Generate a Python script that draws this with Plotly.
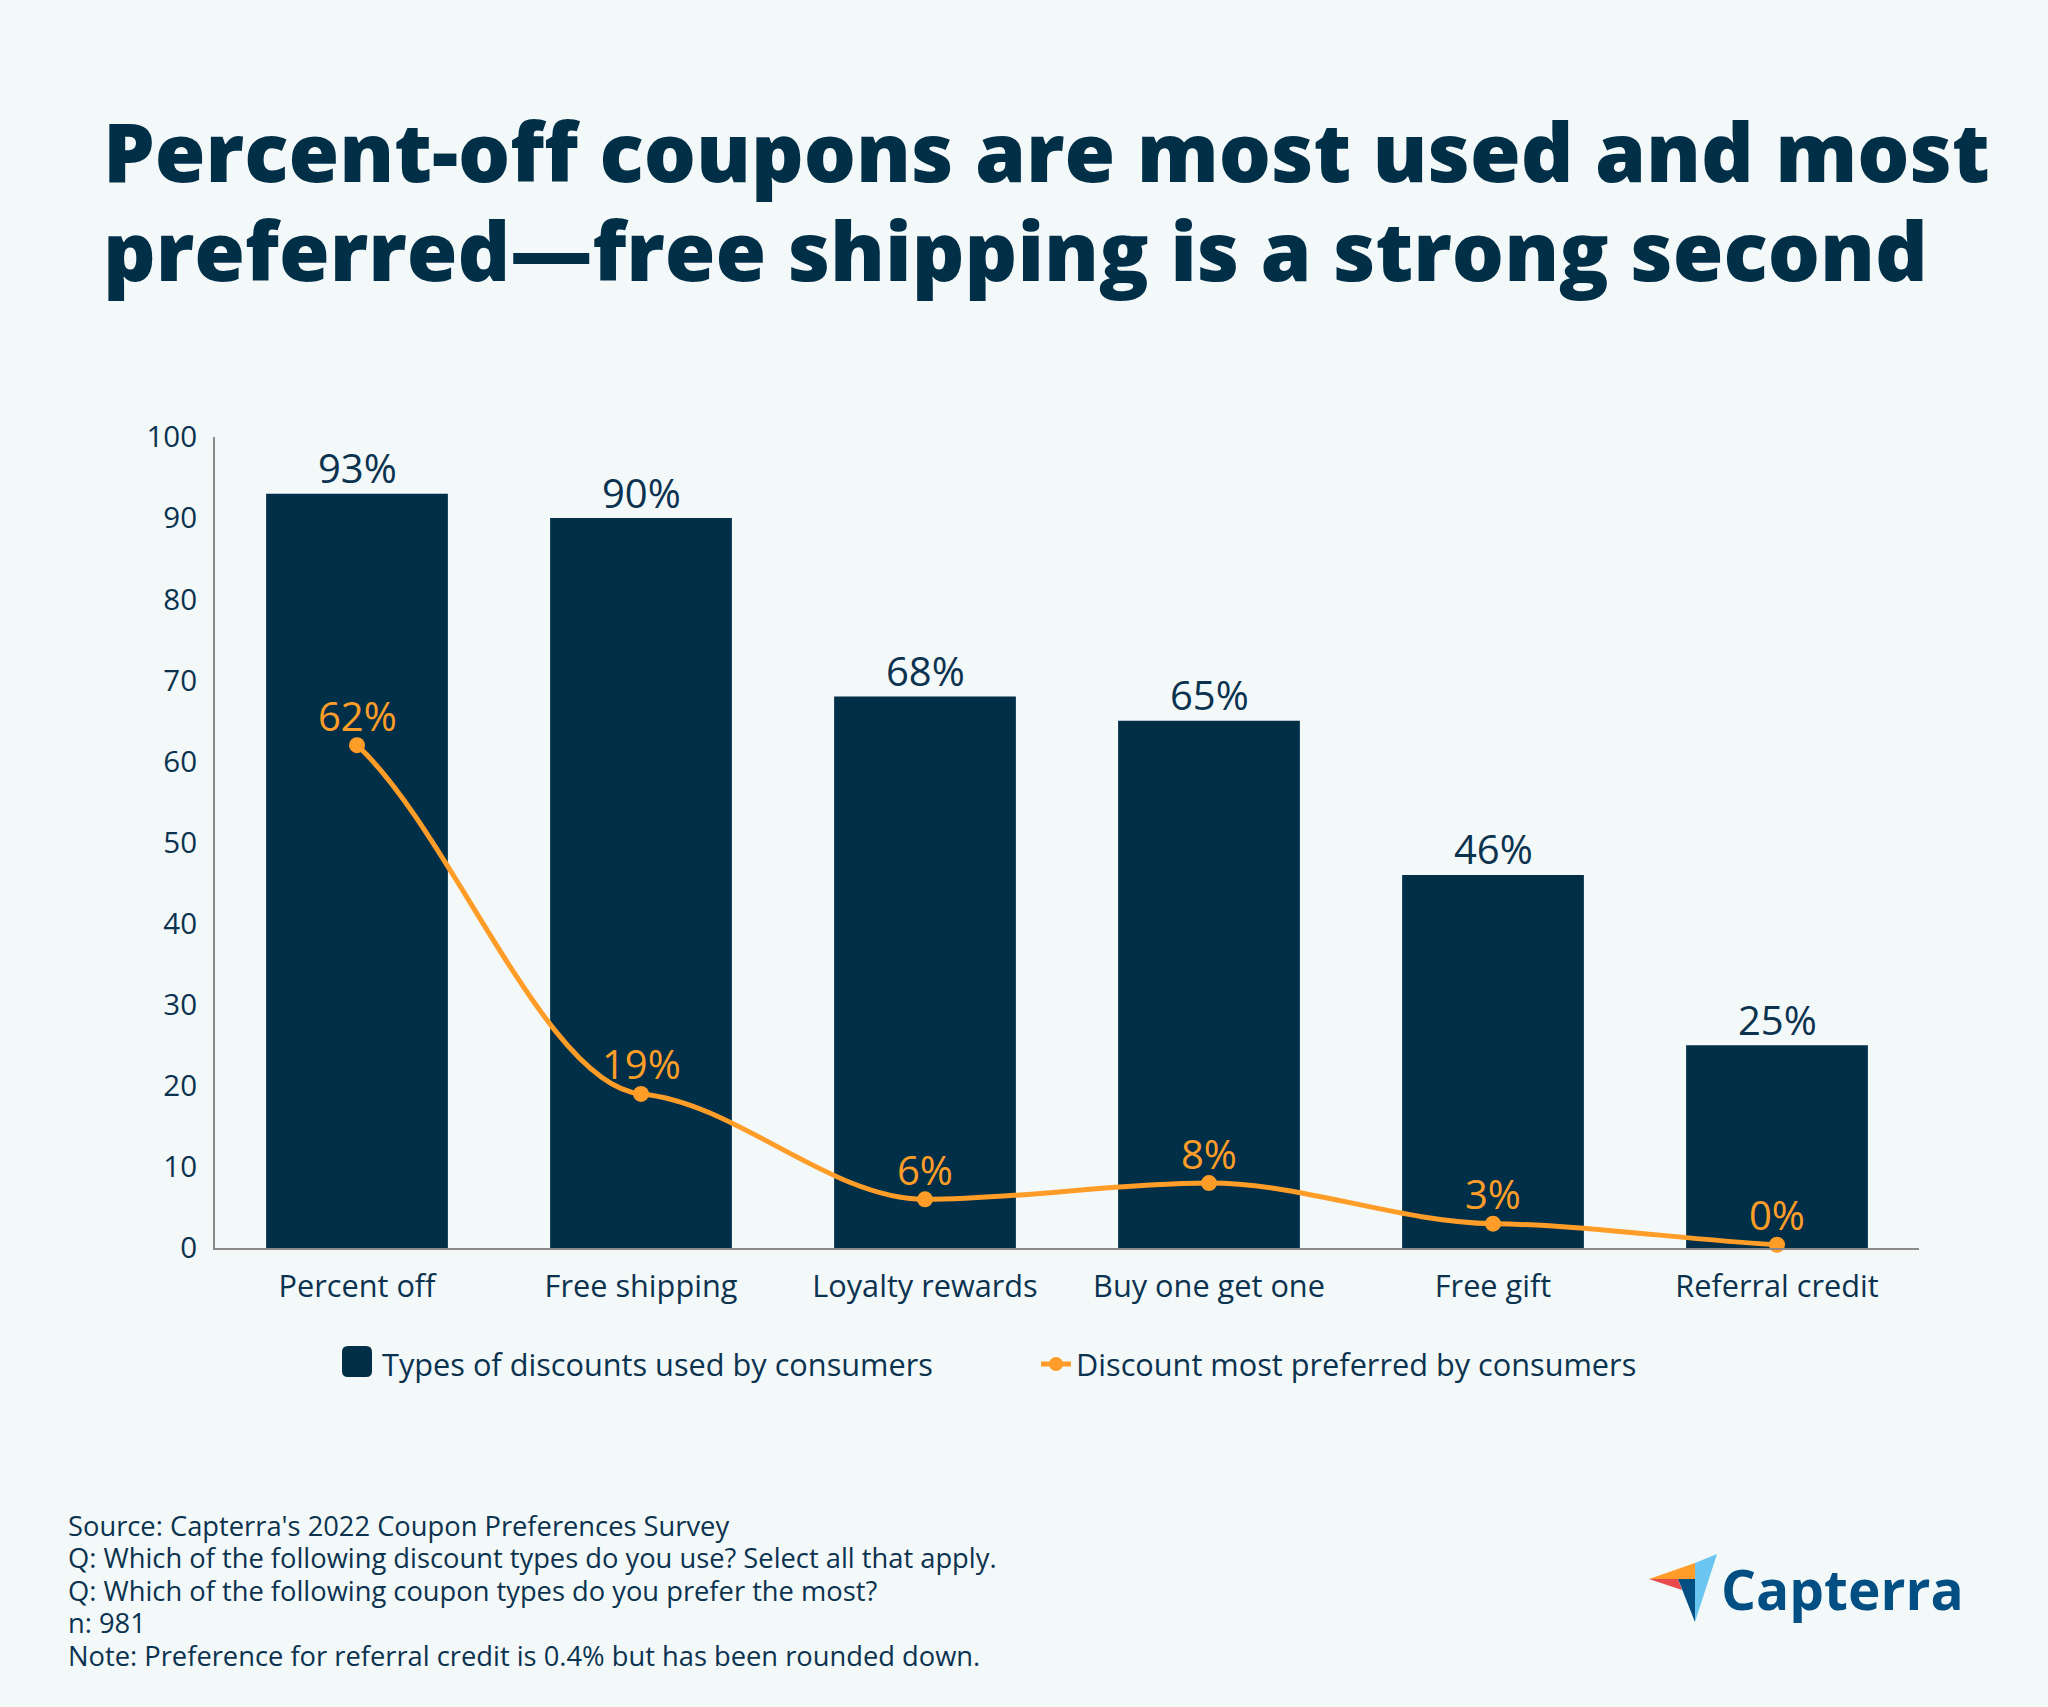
import plotly.graph_objects as go

FIG_W = 2048
FIG_H = 1707
BG = '#f3f8f8'
NAVY = '#002f47'
TEXT = '#0b3350'
ORANGE = '#ff9d28'
AXIS_GREY = '#8a8a8a'

categories = ['Percent off', 'Free shipping', 'Loyalty rewards', 'Buy one get one', 'Free gift', 'Referral credit']
used = [93, 90, 68, 65, 46, 25]
preferred = [62, 19, 6, 8, 3, 0.4]
y_ticks = [0, 10, 20, 30, 40, 50, 60, 70, 80, 90, 100]

title_lines = ['Percent-off coupons are most used and most', 'preferred—free shipping is a strong second']
footer_lines = [
    "Source: Capterra's 2022 Coupon Preferences Survey",
    'Q: Which of the following discount types do you use? Select all that apply.',
    'Q: Which of the following coupon types do you prefer the most?',
    'n: 981',
    'Note: Preference for referral credit is 0.4% but has been rounded down.',
]

# margins of the plot area, in pixels
M_L, M_R, M_T, M_B = 215, 129, 437, 459

x_pos = list(range(len(categories)))


def px(x):
    return (x - M_L) / (FIG_W - M_L - M_R)


def py(y):
    return 1 - (y - M_T) / (FIG_H - M_T - M_B)


def logo_shape(points, color):
    path = 'M ' + ' L '.join(f'{px(x):.5f},{py(y):.5f}' for x, y in points) + ' Z'
    return dict(type='path', xref='paper', yref='paper', path=path, fillcolor=color, line_width=0)


def swatch_shape(x0, y0, x1, y1, r, color):
    # rounded legend square, plotly only draws a small one
    p = [
        f'M {px(x0 + r):.5f},{py(y0):.5f}', f'L {px(x1 - r):.5f},{py(y0):.5f}',
        f'Q {px(x1):.5f},{py(y0):.5f} {px(x1):.5f},{py(y0 + r):.5f}', f'L {px(x1):.5f},{py(y1 - r):.5f}',
        f'Q {px(x1):.5f},{py(y1):.5f} {px(x1 - r):.5f},{py(y1):.5f}', f'L {px(x0 + r):.5f},{py(y1):.5f}',
        f'Q {px(x0):.5f},{py(y1):.5f} {px(x0):.5f},{py(y1 - r):.5f}', f'L {px(x0):.5f},{py(y0 + r):.5f}',
        f'Q {px(x0):.5f},{py(y0):.5f} {px(x0 + r):.5f},{py(y0):.5f}', 'Z',
    ]
    return dict(type='path', xref='paper', yref='paper', path=' '.join(p), fillcolor=color, line_width=0)


def curve_path(xs, ys):
    # Curva morbida: tangenti quasi piatte nei punti interni, come nel grafico originale
    secants = [ys[i + 1] - ys[i] for i in range(len(ys) - 1)]
    slopes = [0.75 * secants[0]]
    for a, b in zip(secants[:-1], secants[1:]):
        slopes.append(0.15 * 2 * a * b / (a + b) if a * b > 0 else 0)
    slopes.append(0.75 * secants[-1])
    path = f'M {xs[0]},{ys[0]}'
    for i in range(len(xs) - 1):
        path += (f' C {xs[i] + 1 / 3:.4f},{ys[i] + slopes[i] / 3:.4f}'
                 f' {xs[i + 1] - 1 / 3:.4f},{ys[i + 1] - slopes[i + 1] / 3:.4f}'
                 f' {xs[i + 1]},{ys[i + 1]}')
    return path


fig = go.Figure()

fig.add_trace(go.Bar(
    x=x_pos,
    y=used,
    name='Types of discounts used by consumers',
    marker=dict(color=NAVY, line_width=0),
    width=0.64,
))

# Punti della serie
fig.add_trace(go.Scatter(
    x=x_pos,
    y=preferred,
    mode='markers',
    showlegend=False,
    marker=dict(color=ORANGE, size=16),
    cliponaxis=False,
))

# Voce di legenda della linea (la curva e' disegnata come shape)
fig.add_trace(go.Scatter(
    x=[None],
    y=[None],
    mode='lines+markers',
    name='Discount most preferred by consumers',
    line=dict(color=ORANGE, width=5),
    marker=dict(color=ORANGE, size=14),
))

annotations = []
for x, v in zip(x_pos, used):
    annotations.append(dict(
        text=f'{v}%', x=x, y=v, xref='x', yref='y', yshift=26, yanchor='middle',
        showarrow=False, font=dict(size=40, color=TEXT),
    ))
for x, v in zip(x_pos, preferred):
    annotations.append(dict(
        text=f'{round(v)}%', x=x, y=v, xref='x', yref='y', yshift=30, yanchor='middle',
        showarrow=False, font=dict(size=40, color=ORANGE),
    ))
# Titolo su due righe
for i, line in enumerate(title_lines):
    annotations.append(dict(
        text=line, xref='paper', yref='paper', x=px(101), y=py(150.5 + i * 99),
        xanchor='left', yanchor='middle', showarrow=False,
        font=dict(size=82.1, color=NAVY, weight=800),
    ))
for i, line in enumerate(footer_lines):
    annotations.append(dict(
        text=line, xref='paper', yref='paper', x=px(65.5), y=py(1525 + i * 32.6),
        xanchor='left', yanchor='middle', showarrow=False,
        font=dict(size=27.3, color=TEXT),
    ))
annotations.append(dict(
    text='Capterra', xref='paper', yref='paper', x=px(1842), y=py(1588),
    xanchor='center', yanchor='middle', showarrow=False,
    font=dict(size=55, color='#034f84', weight=700),
))

shapes = [
    dict(type='path', xref='x', yref='y', path=curve_path(x_pos, preferred),
         line=dict(color=ORANGE, width=5)),
    swatch_shape(342, 1346, 372, 1377, 6, NAVY),
    logo_shape([(1649, 1579), (1695, 1563), (1695, 1579)], ORANGE),
    logo_shape([(1695, 1563), (1717, 1554), (1695, 1622)], '#6ac6f0'),
    logo_shape([(1649, 1579), (1678, 1579), (1682, 1590)], '#e84a4d'),
    logo_shape([(1678, 1579), (1695, 1579), (1695, 1622)], '#034f84'),
]

fig.update_layout(
    width=FIG_W,
    height=FIG_H,
    margin=dict(l=M_L, r=M_R, t=M_T, b=M_B, pad=0),
    paper_bgcolor=BG,
    plot_bgcolor=BG,
    font=dict(family='Open Sans', color=TEXT, size=30),
    showlegend=True,
    legend=dict(
        orientation='h', x=px(342), y=py(1364), xanchor='left', yanchor='middle',
        font=dict(size=30.7, color=TEXT), entrywidth=649, entrywidthmode='pixels',
        bgcolor='rgba(0,0,0,0)', itemclick=False,
    ),
    annotations=annotations,
    shapes=shapes,
)
fig.update_xaxes(
    range=[-0.5, 5.5], tickvals=x_pos, ticktext=categories, showgrid=False, zeroline=False,
    showline=True, linecolor=AXIS_GREY, linewidth=2, ticks='',
    ticklabelstandoff=10, tickfont=dict(size=30.7, color=TEXT),
)
fig.update_yaxes(
    range=[0, 100], tickvals=y_ticks, showgrid=False, zeroline=False, showline=True,
    linecolor=AXIS_GREY, linewidth=2, ticks='', ticklabelstandoff=10,
    tickfont=dict(size=29.5, color=TEXT),
)

fig.write_html('out.html', config=dict(displayModeBar=False), post_script='document.body.style.margin = "0";')
